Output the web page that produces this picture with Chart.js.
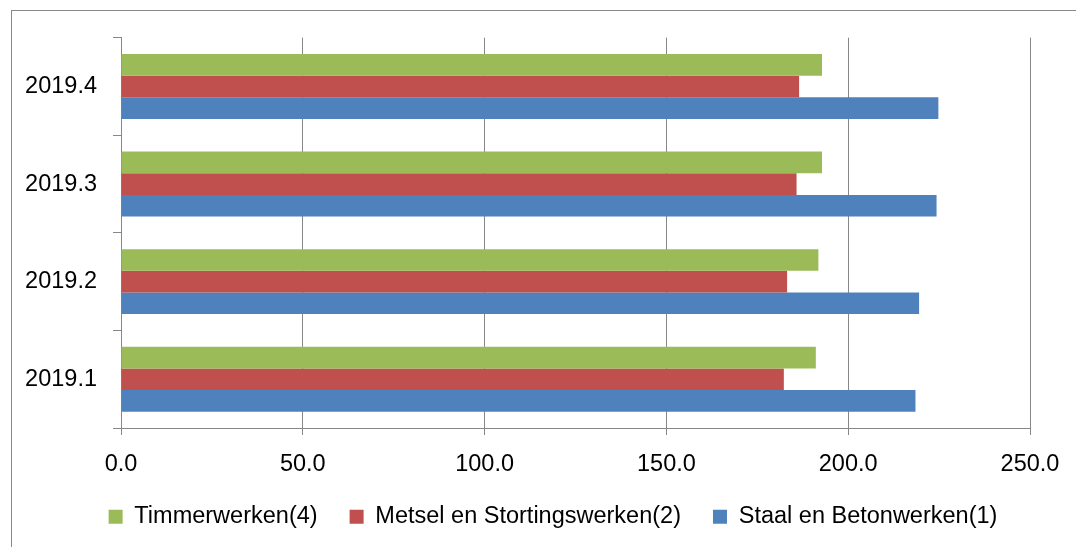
<!DOCTYPE html>
<html>
<head>
<meta charset="utf-8">
<script src="https://cdn.jsdelivr.net/npm/chart.js@4"></script>
<style>
    html, body { margin: 0; padding: 0; background: #fff; overflow: hidden; }
    body { width: 1076px; height: 547px; position: relative; }
    #frame {
        position: absolute; left: 11px; top: 10px;
        width: 1084px; height: 540px;
        border: 1px solid #898989;
    }
</style>
</head>
<body>
<div id="frame"><canvas id="chart"></canvas></div>
<script>
// quarters, top to bottom as shown
const quarters = ['2019.4', '2019.3', '2019.2', '2019.1'];

const timmerwerken = [192.8, 192.8, 191.8, 191.1];
const metselwerken = [186.5, 185.8, 183.2, 182.3];
const staalBeton = [224.8, 224.3, 219.5, 218.5];

const xTicks = [0, 50, 100, 150, 200, 250];

const FONT = { family: '"Liberation Sans", Arial, sans-serif', size: 23.5 };
const GRID = '#878787';

// the original legend is centred on the whole (wider) frame, not on the plot
const legendShift = {
    id: 'legendShift',
    afterLayout(chart) {
        const lg = chart.legend;
        lg.left += 32;
        lg.right += 32;
    }
};

new Chart(document.getElementById('chart'), {
    type: 'bar',
    data: {
        labels: quarters,
        datasets: [
            { label: 'Timmerwerken(4)', data: timmerwerken, backgroundColor: '#9BBB59' },
            { label: 'Metsel en Stortingswerken(2)', data: metselwerken, backgroundColor: '#C0504D' },
            { label: 'Staal en Betonwerken(1)', data: staalBeton, backgroundColor: '#4F81BD' }
        ]
    },
    options: {
        indexAxis: 'y',
        responsive: true,
        maintainAspectRatio: false,
        animation: false,
        categoryPercentage: 0.665,
        barPercentage: 1.0,
        layout: { padding: { top: 26.7, right: 66, left: 0, bottom: 12.5 } },
        scales: {
            x: {
                min: 0,
                max: 250,
                afterBuildTicks: s => { s.ticks = xTicks.map(v => ({ value: v })); },
                afterFit: s => { s.height = 45; },
                ticks: {
                    color: '#000',
                    font: FONT,
                    padding: 15,
                    callback: v => Number(v).toFixed(1)
                },
                grid: { color: GRID, lineWidth: 1, tickLength: 7 },
                border: { color: GRID, width: 1 }
            },
            y: {
                afterFit: s => {
                    s.width = 109;
                    s.paddingTop = 0;
                    s.paddingBottom = 0;
                },
                ticks: { color: '#000', font: FONT, padding: 16 },
                grid: { drawOnChartArea: false, color: GRID, tickLength: 8, offset: true },
                border: { color: GRID, width: 1 }
            }
        },
        plugins: {
            legend: {
                position: 'bottom',
                labels: {
                    color: '#000',
                    font: FONT,
                    boxWidth: 14,
                    boxHeight: 14,
                    padding: 32
                }
            },
            tooltip: { enabled: false }
        }
    },
    plugins: [legendShift]
});
</script>
</body>
</html>
